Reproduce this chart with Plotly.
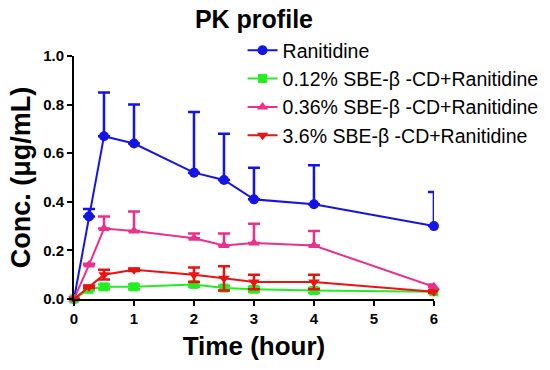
import plotly.graph_objects as go

time_h = [0, 0.25, 0.5, 1, 2, 2.5, 3, 4, 6]

names = ["Ranitidine",
         "0.12% SBE-β -CD+Ranitidine",
         "0.36% SBE-β -CD+Ranitidine",
         "3.6% SBE-β -CD+Ranitidine"]

ranitidine = [0, 0.34, 0.67, 0.64, 0.52, 0.49, 0.41, 0.39, 0.30]
ranitidine_err = [0, 0.03, 0.18, 0.16, 0.25, 0.19, 0.13, 0.16, 0.14]

sbe012 = [0, 0.04, 0.05, 0.05, 0.06, 0.045, 0.04, 0.035, 0.03]
sbe012_err = [0, 0.005, 0.01, 0.01, 0.01, 0.01, 0.01, 0.01, 0.005]

sbe036 = [0, 0.14, 0.29, 0.28, 0.25, 0.22, 0.23, 0.22, 0.05]
sbe036_err = [0, 0.005, 0.05, 0.08, 0.02, 0.05, 0.08, 0.06, 0.01]

sbe36 = [0, 0.05, 0.10, 0.12, 0.10, 0.085, 0.07, 0.07, 0.03]
sbe36_err = [0, 0.005, 0.02, 0.005, 0.03, 0.05, 0.03, 0.03, 0.005]

x_ticks = [0, 1, 2, 3, 4, 5, 6]
y_ticks = [0, 0.2, 0.4, 0.6, 0.8, 1.0]

colors = ["#1414e6", "#22ee22", "#ec2f8c", "#ea1212"]
symbols = ["circle", "square", "triangle-up", "triangle-down"]
sizes = [10, 9, 10, 10]

series = [(ranitidine, ranitidine_err, False),
          (sbe012, sbe012_err, True),
          (sbe036, sbe036_err, False),
          (sbe36, sbe36_err, True)]

fig = go.Figure()
for i, (vals, err, sym) in enumerate(series):
    ed = dict(type="data", array=err, visible=True, color=colors[i],
              thickness=2.5, width=6)
    if sym:
        ed["symmetric"] = True
    else:
        ed["symmetric"] = False
        ed["arrayminus"] = [0] * len(err)
    fig.add_trace(go.Scatter(
        x=time_h, y=vals, name=names[i], mode="lines+markers",
        line=dict(color=colors[i], width=2),
        marker=dict(symbol=symbols[i], size=sizes[i], color=colors[i]),
        error_y=ed, cliponaxis=False))

# pixel layout helpers (paper spans x 74..546, y 20..299)
L, R, T, B = 74, 4, 20, 71
W, H = 550, 370
pw, ph = W - L - R, H - T - B
x_end = (437 - L) / pw
y_end = (299 - 56) / ph

fig.update_layout(
    width=W, height=H,
    paper_bgcolor="white", plot_bgcolor="white",
    margin=dict(l=L, r=R, t=T, b=B),
    font=dict(family="Liberation Sans, Arial, sans-serif", color="black"),
    title=dict(text="<b>PK profile</b>", xref="paper", x=x_end / 2,
               xanchor="center", y=1 - 19 / H, yanchor="middle",
               font=dict(size=25)),
    showlegend=True,
    legend=dict(x=(244 - L) / pw, y=(299 - 31) / ph,
                xanchor="left", yanchor="top",
                bgcolor="rgba(0,0,0,0)", font=dict(size=19.5),
                itemwidth=30),
    xaxis=dict(range=[0, 6], domain=[0, x_end], tickvals=x_ticks,
               ticktext=["<b>%d</b>" % v for v in x_ticks],
               showgrid=False, zeroline=False, showline=True,
               linecolor="black", linewidth=2, ticks="outside",
               tickwidth=2, ticklen=5, tickcolor="black",
               tickfont=dict(size=15),
               title=dict(text="<b>Time (hour)</b>", font=dict(size=26),
                          standoff=11)),
    yaxis=dict(range=[0, 1.0], domain=[0, y_end], tickvals=y_ticks,
               ticktext=["<b>%.1f</b>" % v for v in y_ticks],
               showgrid=False, zeroline=False, showline=True,
               linecolor="black", linewidth=2, ticks="outside",
               tickwidth=2, ticklen=5, tickcolor="black",
               tickfont=dict(size=15),
               title=dict(text="<b>Conc. (μg/mL)</b>", font=dict(size=27),
                          standoff=5)),
)

fig.write_html("out.html", config={"displayModeBar": False},
               post_script="document.body.style.margin='0';")
